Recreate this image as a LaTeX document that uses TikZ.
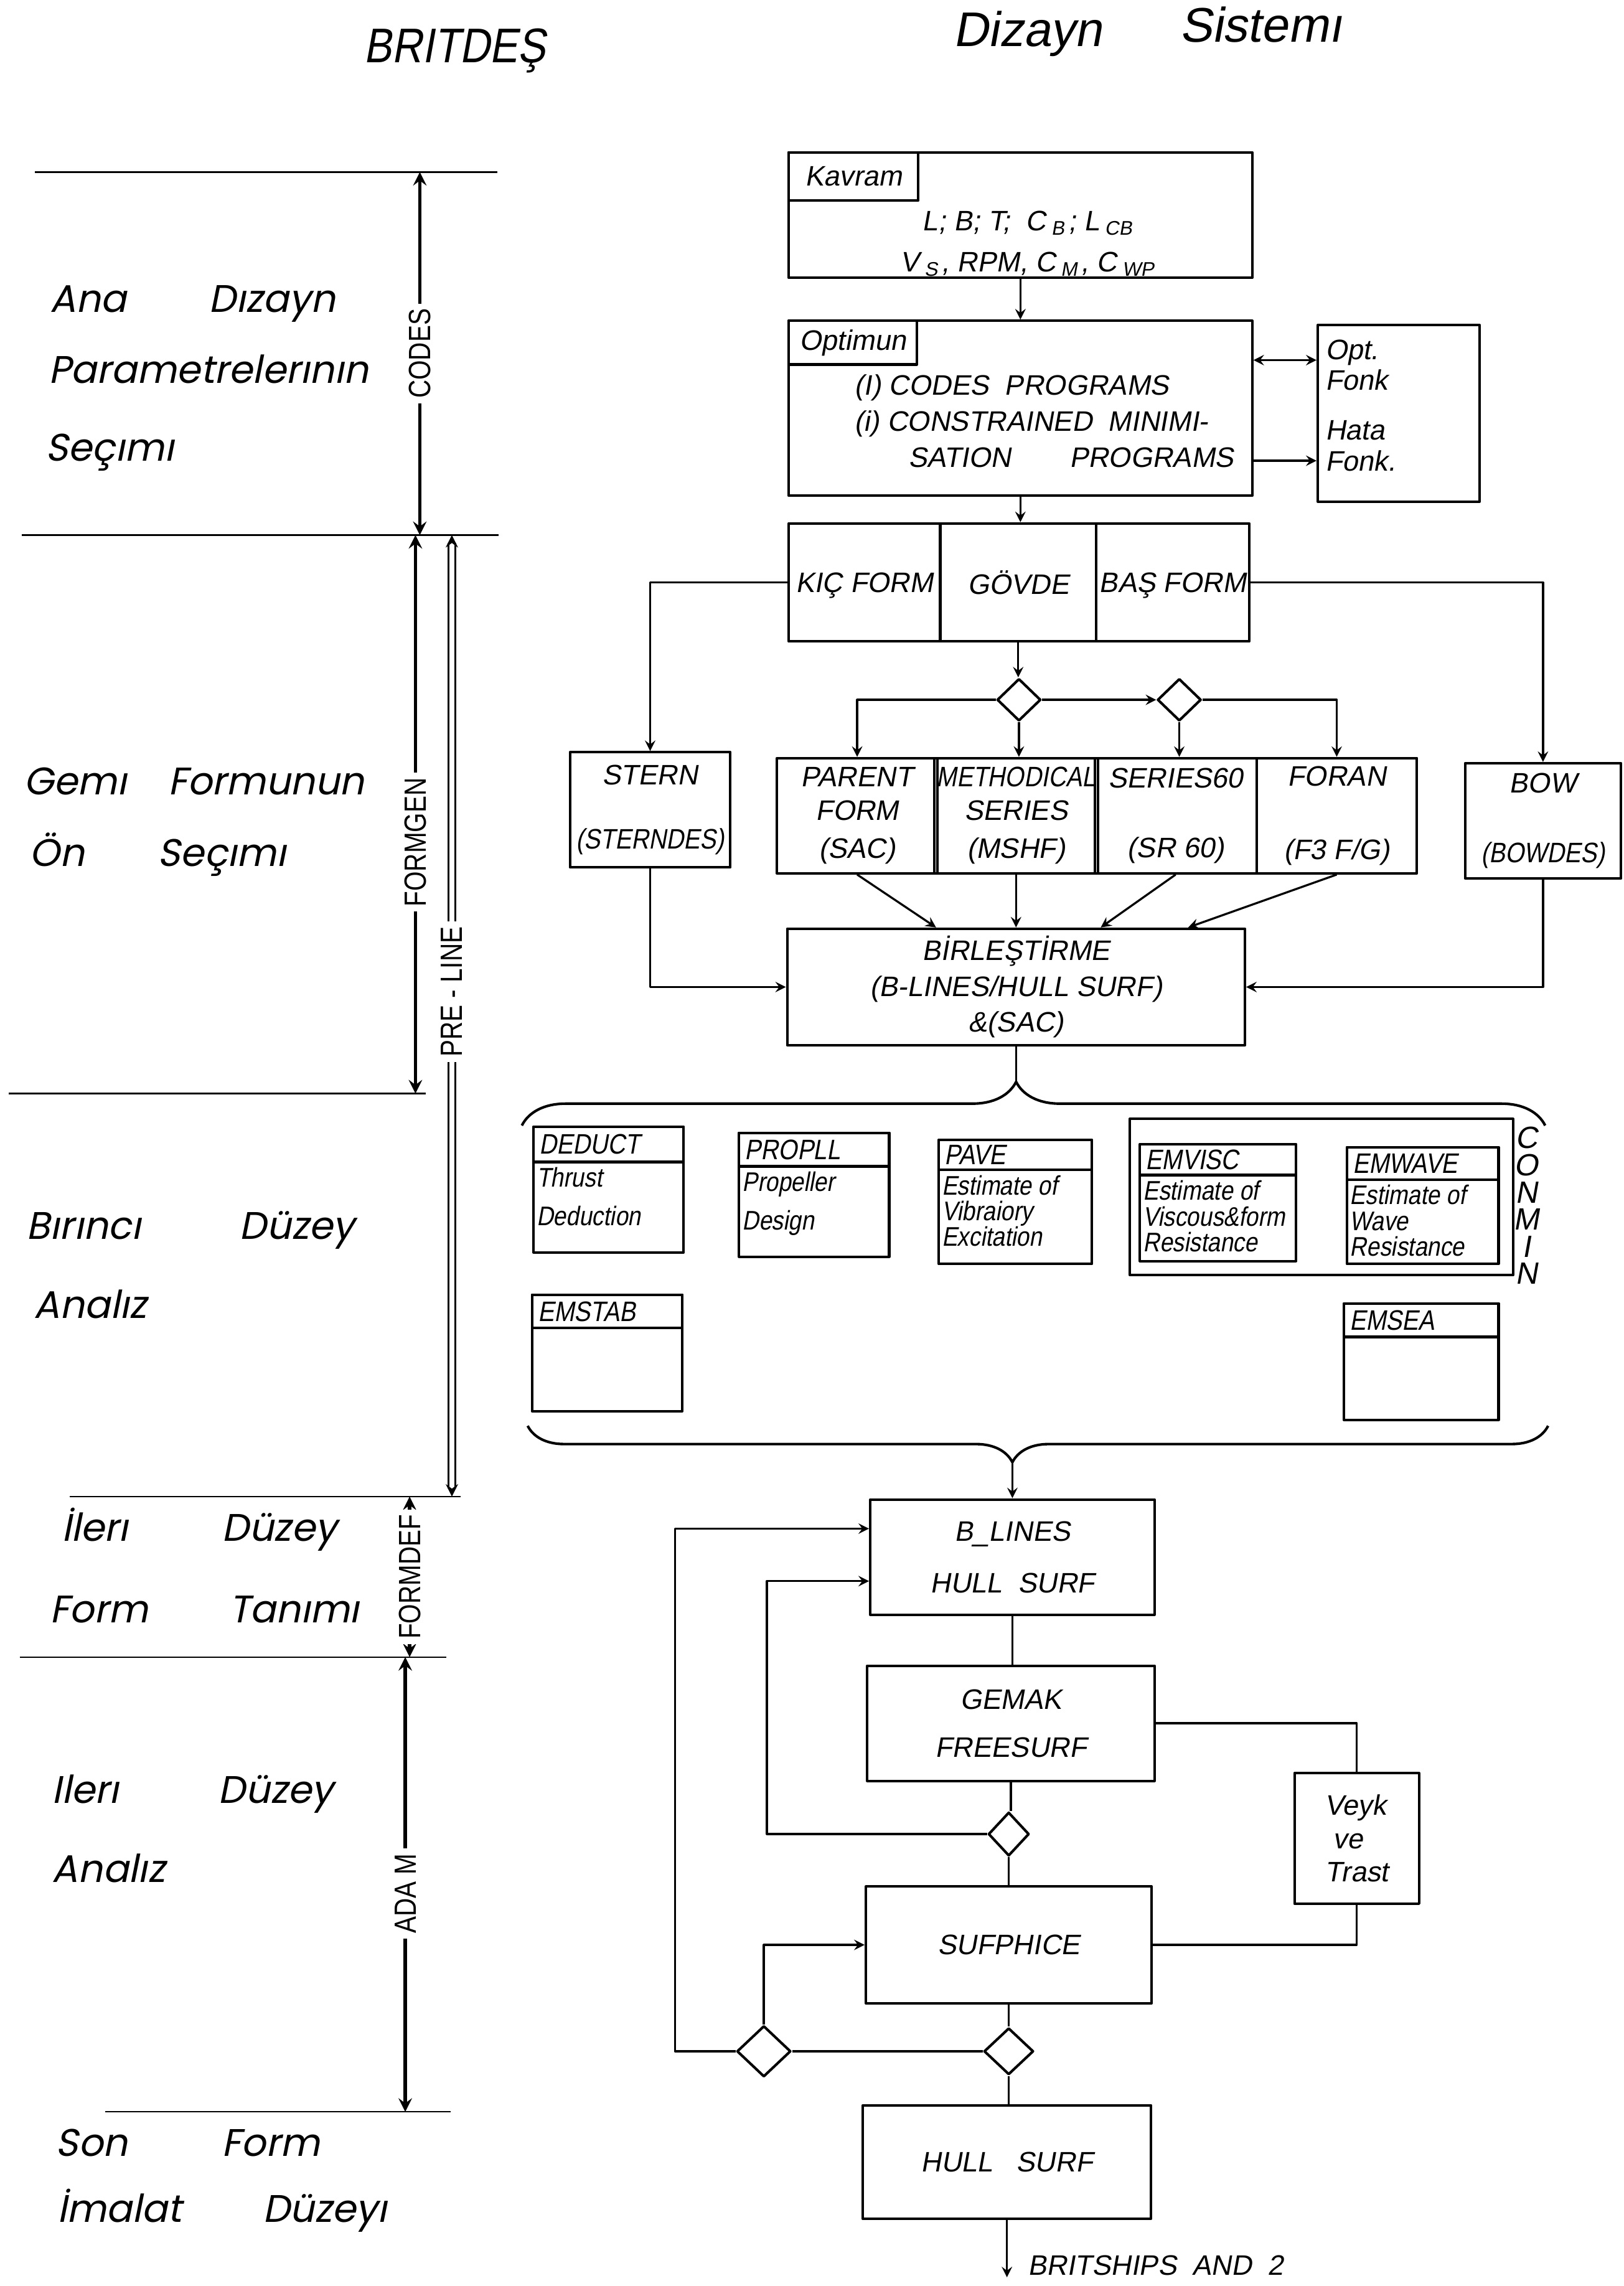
\documentclass[tikz,border=0pt]{standalone}
\usepackage{fontspec}
\usetikzlibrary{shapes.geometric,calc,decorations.pathreplacing}
\newfontfamily\lett{Liberation Sans}[FakeSlant=0.18]
\newfontfamily\lettn{Liberation Sans}[FakeSlant=0.18,FakeStretch=0.86]
\newfontfamily\lettv{Liberation Sans}[FakeStretch=0.82]
\newfontfamily\levfont{Poppins}[FakeSlant=0.2]
\newcommand{\sbs}[1]{\kern2pt\textsubscript{#1}\kern1pt}
\tikzset{
  blk/.style 2 args={draw,line width=1pt,minimum width=#1*0.02cm,minimum height=#2*0.02cm,inner sep=1pt,align=center,font=\lett\fontsize{11}{13}\selectfont},
  tag/.style 2 args={draw,line width=1pt,minimum width=#1*0.02cm,minimum height=#2*0.02cm,inner sep=1pt,font=\lett\fontsize{11}{13}\selectfont},
  hd/.style 2 args={draw,line width=1pt,minimum width=#1*0.02cm,minimum height=#2*0.02cm,inner sep=2pt,align=left,font=\lettn\fontsize{11}{12}\selectfont},
  bd/.style={inner sep=1.5pt,align=left,font=\lettn\fontsize{10.5}{10}\selectfont},
  txt/.style={inner sep=1pt,font=\lett\fontsize{11}{14}\selectfont},
  dia/.style 2 args={draw,diamond,line width=1pt,inner sep=0pt,minimum width=#1*0.02cm,minimum height=#2*0.02cm},
  ttl/.style={inner sep=0pt,font=\lett\fontsize{19}{22}\selectfont},
  lev/.style={inner sep=0pt,font=\levfont\fontsize{15}{18}\selectfont},
  rule/.style={line width=0.6pt},
  varr/.style={<->,line width=1.3pt},
  vlab/.style={fill=white,rotate=90,inner sep=2pt,font=\lettv\fontsize{12}{12}\selectfont},
  con/.style={line width=0.8pt}
}
\begin{document}
\begin{tikzpicture}[x=0.02cm,y=-0.02cm,>=stealth,line join=round]
\useasboundingbox (0,0) rectangle (1114,1568);
\node[ttl,font=\lettn\fontsize{19}{22}\selectfont,anchor=base] (britdes) at (312,43) {BRITDEŞ};
\node[ttl,anchor=base] (dizayn) at (705,32) {Dizayn};
\node[ttl,anchor=base] (sistemi) at (865,29) {Sistemı};

\foreach \a/\b/\y in {24/341/118,15/342/367,6/292/750,48/316/1026.5,13.5/306/1136.6,72/309/1448.5}
\draw[rule] (\a,\y)--(\b,\y);
\foreach \n/\x/\y/\t in {ana/34/214/Ana,diz/143/214/Dızayn,par/33/263/Parametrelerının,sec/31/316/Seçımı,
  gem/16/545/Gemı,frm/115/545/Formunun,on/20/594/Ön,secb/108/594/Seçımı,
  bir/18/850/Bırıncı,duz/164/850/Düzey,anl/23/904/Analız,
  ile/42/1057/İlerı,duzb/152/1057/Düzey,frmb/34/1113/Form,tan/157/1113/Tanımı,
  ileb/35.5/1237/Ilerı,duzc/149.5/1237/Düzey,anlb/35.5/1291/Analız,
  son/38/1479/Son,frmc/152/1479/Form,ima/39/1524/İmalat,duzd/180/1524/Düzeyı}
\node[lev,anchor=base west] (\n) at (\x,\y) {\t};

\coordinate (codesT) at (288,118); \coordinate (codesB) at (288,367);
\coordinate (fgT) at (285,367); \coordinate (fgB) at (285,750);
\coordinate (plT) at (310,367); \coordinate (plB) at (310,1026.5);
\coordinate (fdT) at (281,1026.5); \coordinate (fdB) at (281,1136.6);
\coordinate (adT) at (278,1136.6); \coordinate (adB) at (278,1448.5);
\draw[varr] (codesT) -- node[vlab] (codes) {CODES} (codesB);
\draw[varr] (fgT) -- node[vlab,pos=0.55] (formgen) {FORMGEN} (fgB);
\draw[<->,line width=0.6pt,double,double distance=2pt] (plT) -- node[vlab,pos=0.475] (preline) {PRE\ -\ LINE} (plB);
\draw[varr] (fdT) -- node[vlab] (formdef) {FORMDEF} (fdB);
\draw[varr] (adT) -- node[vlab,pos=0.52] (adam) {ADA M} (adB);

\node[blk={318}{86}] (kavram) at (700,147.5) {};
\node[tag={89}{33},anchor=north west] (kavlbl) at (kavram.north west) {Kavram};
\node[txt,align=center] (kavtxt) at (706,167) {L;\ B;\ T;\ \ C\sbs{B};\ L\sbs{CB}\\[2pt]V\sbs{S},\ RPM,\ C\sbs{M},\ C\sbs{WP}};
\node[blk={318}{120}] (optimun) at (700,280) {};
\node[tag={88}{30},anchor=north west] (optlbl) at (optimun.north west) {Optimun};
\node[txt,align=left,anchor=north west] (opttxt) at (584,255) {(I)\ CODES\ \ PROGRAMS\\(i)\ CONSTRAINED\ \ MINIMI-\\\hspace{0.74cm}SATION\hspace{0.8cm}PROGRAMS};
\node[blk={111}{121}] (optfonk) at (959.5,283.5) {};
\node[txt,align=left,anchor=north west,font=\lett\fontsize{11}{12}\selectfont] (optfonktxt) at (907,231) {Opt.\\Fonk\\[0.26cm]Hata\\Fonk.};
\draw[con,<->] ($(optimun.east)+(0,-33)$) coordinate (oa) -- (oa -| optfonk.west);
\draw[con,->] ($(optimun.east)+(0,36)$) coordinate (ob) -- (ob -| optfonk.west);

\node[blk={104}{81},text depth=-0.2cm] (kic) at (593,399.5) {KIÇ FORM};
\node[blk={107}{81},text depth=-0.2cm] (govde) at (698.5,399.5) {GÖVDE};
\node[blk={105}{81},text depth=-0.2cm] (bas) at (804.5,399.5) {BAŞ FORM};
\node[dia={30}{29}] (d1) at (699,480) {};
\node[dia={30}{29}] (d2) at (809,480) {};
\node[blk={110}{79}] (stern) at (446,555.5) {STERN\\[0.42cm]{\lettn (STERNDES)}};
\node[blk={110}{79}] (parent) at (588,559.5) {PARENT\\FORM\\[2pt](SAC)};
\node[blk={108}{79}] (meth) at (697,559.5) {{\lettn METHODICAL}\\SERIES\\[2pt](MSHF)};
\node[blk={111}{79}] (ser60) at (806.5,559.5) {SERIES60\\[0.5cm](SR 60)};
\node[blk={110}{79}] (foran) at (917,559.5) {FORAN\\[0.55cm](F3 F/G)};
\node[blk={107}{79}] (bow) at (1058.5,563) {BOW\\[0.5cm]{\lettn (BOWDES)}};
\node[blk={314}{80}] (birl) at (697,677) {BİRLEŞTİRME\\[1pt](B-LINES/HULL SURF)\\[1pt]\&(SAC)};

\draw[con,->] (kavram) -- (optimun);
\draw[con,->] (optimun.south) -- (optimun.south |- govde.north);
\draw[con,->] (govde.south) -- (govde.south |- d1.north);
\draw[con,->] (kic.west) -| (stern.north);
\draw[con,->] (bas.east) -| (bow.north);
\draw[con,->] (d1.west) -| (parent.north);
\draw[con,->] (d1.south) -- (d1.south |- meth.north);
\draw[con,->] (d1.east) -- (d2.west);
\draw[con,->] (d2.south) -- (d2.south |- ser60.north);
\draw[con,->] (d2.east) -| (foran.north);
\draw[con,->] (parent.south) -- ($(birl.north west)+(103,0)$);
\draw[con,->] (meth.south) -- (meth.south |- birl.north);
\draw[con,->] (ser60.south) -- ($(birl.north west)+(216,0)$);
\draw[con,->] (foran.south) -- ($(birl.north west)+(276,0)$);
\draw[con,->] (stern.south) |- (birl.west);
\draw[con,->] (bow.south) |- (birl.east);

\coordinate (braAL) at (358,772); \coordinate (braAR) at (1060,772);
\coordinate (tipA) at (697,742);
\draw[line width=1pt,decorate,decoration={brace,amplitude=0.6cm,aspect=0.483}] (braAL) -- (braAR);
\draw[con] (birl.south) -- (tipA);

\node[blk={263}{107}] (conminbox) at (906.5,821) {};
\foreach \n/\cx/\cy/\bw/\bh/\hh/\ttl/\bdy in {
  deduct/417.5/816/103/86/24/DEDUCT/{Thrust\\[5pt]Deduction},
  propll/558.5/819.5/103/85/23/PROPLL/{Propeller\\[5pt]Design},
  pave/696.5/824.5/105/85/20/PAVE/{Estimate of\\Vibraiory\\Excitation},
  emvisc/835.5/825/107/80/21/EMVISC/{Estimate of\\Viscous\&form\\Resistance},
  emwave/976/827/104/80/22/EMWAVE/{Estimate of\\Wave\\Resistance},
  emstab/416.5/928/103/80/23/EMSTAB/{},
  emsea/975/934/106/80/23/EMSEA/{}}
{
  \pgfmathsetmacro\tw{\bw*0.02-0.16}
  \node[blk={\bw}{\bh}] (\n) at (\cx,\cy) {};
  \node[hd={\bw}{\hh},text width=\tw cm,anchor=north west] (hd\n) at (\n.north west) {\ttl};
  \node[bd,anchor=north west] (bd\n) at (hd\n.south west) {\bdy};
}
\node[inner sep=0pt,align=center,font=\lett\fontsize{12}{10.6}\selectfont] (conmin) at (1047,827) {C\\O\\N\\M\\I\\N};

\coordinate (braBL) at (362,978); \coordinate (braBR) at (1062,978);
\coordinate (tipB) at (694.5,1003);
\draw[line width=1pt,decorate,decoration={brace,mirror,amplitude=0.5cm,aspect=0.475}] (braBL) -- (braBR);

\node[blk={195}{79}] (blines) at (694.5,1068) {B\_LINES\\[0.25cm]HULL\ \ SURF};
\node[blk={197}{79}] (gemak) at (693.5,1182) {GEMAK\\[0.2cm]FREESURF};
\node[blk={196}{80}] (sufphice) at (692,1334) {SUFPHICE};
\node[blk={197.5}{78}] (hullsurf) at (690.75,1483) {HULL\ \ \ SURF};
\node[blk={85.5}{89.5},align=left] (veyk) at (930.75,1261) {Veyk\\\ ve\\Trast};
\node[dia={28}{30}] (d3) at (692,1258) {};
\node[dia={34}{32}] (d4) at (692,1407) {};
\node[dia={37}{35}] (d5) at (524,1407) {};
\coordinate (britend) at (691,1562);
\node[txt,anchor=west] (britxt) at (703,1554) {BRITSHIPS\ \ AND\ \ 2};

\draw[con,->] (tipB) -- (blines.north);
\draw[con] (blines.south) -- (blines.south |- gemak.north);
\draw[con] (gemak.south) -- (gemak.south |- d3.north);
\draw[con] (d3.south) -- (d3.south |- sufphice.north);
\draw[con] (sufphice.south) -- (sufphice.south |- d4.north);
\draw[con] (d4.south) -- (d4.south |- hullsurf.north);
\draw[con,->] (d3.west) -| ($(blines.west)+(-70,16.5)$) -- ($(blines.west)+(0,16.5)$);
\draw[con,->] (d5.west) -| ($(blines.west)+(-133,-19.5)$) -- ($(blines.west)+(0,-19.5)$);
\draw[con] (d4.west) -- (d5.east);
\draw[con,->] (d5.north) |- (sufphice.west);
\draw[con] (gemak.east) -| (veyk.north);
\draw[con] (veyk.south) |- (sufphice.east);
\draw[con,->] (hullsurf.south) -- (hullsurf.south |- britend);
\end{tikzpicture}
\end{document}
